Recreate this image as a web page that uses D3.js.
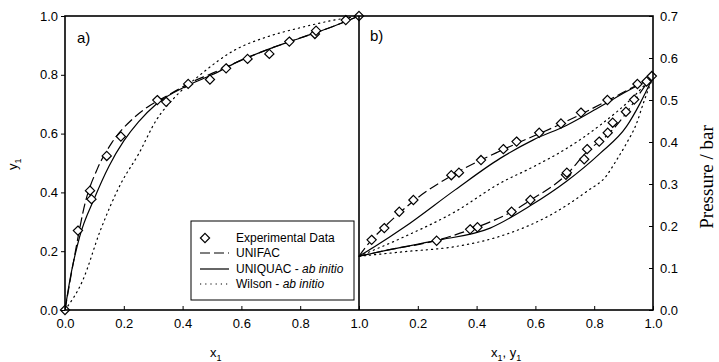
<!DOCTYPE html>
<meta charset="utf-8">
<style>
	body { margin: 0; background: #fff; }
	.tick text { font: 13px "Liberation Sans", Arial, sans-serif; fill: #000; }
	.tick line { stroke: #000; }
	.curve { fill: none; stroke: #000; stroke-width: 1.2px; }
	.frame { fill: none; stroke: #000; stroke-width: 1.6px; }
	.lbl { font: 13px "Liberation Sans", Arial, sans-serif; fill: #000; }
</style>
<svg width="719" height="362"></svg>
<script src="https://cdn.jsdelivr.net/npm/d3@7"></script>
<script>

// ---- panel a) x-y diagram ----
var expX = [0, 0.044, 0.085, 0.09, 0.142, 0.19, 0.314, 0.344, 0.419, 0.493, 0.548, 0.621, 0.695, 0.763, 0.85, 0.854, 0.955, 1.0];
var expY = [0, 0.27, 0.406, 0.377, 0.524, 0.59, 0.714, 0.708, 0.769, 0.784, 0.822, 0.854, 0.871, 0.913, 0.939, 0.95, 0.986, 1.0];

var unifacX = [0, 0.03, 0.07, 0.11, 0.16, 0.23, 0.28, 0.35, 0.42, 0.5, 0.6, 0.7, 0.8, 0.9, 1];
var unifacY = [0, 0.17, 0.37, 0.48, 0.57, 0.65, 0.69, 0.73, 0.77, 0.805, 0.85, 0.89, 0.925, 0.96, 1];

var uniquacX = [0, 0.02, 0.05, 0.1, 0.15, 0.2, 0.25, 0.31, 0.42, 0.5, 0.6, 0.7, 0.8, 0.9, 1];
var uniquacY = [0, 0.12, 0.25, 0.38, 0.49, 0.575, 0.64, 0.70, 0.765, 0.80, 0.85, 0.89, 0.925, 0.96, 1];

var wilsonX = [0, 0.06, 0.12, 0.19, 0.25, 0.31, 0.37, 0.46, 0.57, 0.69, 0.8, 0.91, 1.0];
var wilsonY = [0, 0.10, 0.27, 0.43, 0.53, 0.645, 0.72, 0.80, 0.88, 0.93, 0.96, 0.985, 1.0];

// ---- panel b) P-x-y diagram ----
var bubExpX = [0.043, 0.086, 0.137, 0.185, 0.314, 0.34, 0.415, 0.491, 0.536, 0.613, 0.687, 0.755, 0.845, 0.947, 0.996];
var bubExpP = [0.167, 0.195, 0.234, 0.262, 0.321, 0.327, 0.357, 0.383, 0.401, 0.422, 0.444, 0.47, 0.5, 0.538, 0.557];
var dewExpY = [0.264, 0.378, 0.403, 0.519, 0.583, 0.704, 0.707, 0.766, 0.776, 0.817, 0.846, 0.863, 0.908, 0.936, 0.978];
var dewExpP = [0.165, 0.192, 0.197, 0.234, 0.262, 0.322, 0.327, 0.359, 0.383, 0.401, 0.422, 0.446, 0.472, 0.501, 0.544];

var unifacBubX = [0, 0.043, 0.09, 0.19, 0.34, 0.5, 0.69, 0.85, 0.95, 1];
var unifacBubP = [0.128, 0.167, 0.2, 0.262, 0.33, 0.385, 0.444, 0.5, 0.537, 0.554];
var unifacDewY = [0, 0.1, 0.26, 0.4, 0.52, 0.58, 0.705, 0.78, 0.85, 0.91, 0.94, 0.98, 1];
var unifacDewP = [0.128, 0.143, 0.165, 0.197, 0.234, 0.26, 0.322, 0.38, 0.42, 0.47, 0.50, 0.54, 0.554];

var uniquacBubX = [0, 0.054, 0.156, 0.327, 0.48, 0.593, 0.707, 0.82, 0.91, 1];
var uniquacBubP = [0.128, 0.151, 0.198, 0.286, 0.361, 0.405, 0.44, 0.484, 0.52, 0.554];
var uniquacDewY = [0, 0.1, 0.26, 0.446, 0.582, 0.705, 0.82, 0.91, 0.956, 1];
var uniquacDewP = [0.128, 0.143, 0.165, 0.195, 0.248, 0.306, 0.373, 0.437, 0.492, 0.554];

var wilsonBubX = [0, 0.156, 0.327, 0.48, 0.593, 0.707, 0.82, 0.934, 0.978, 1];
var wilsonBubP = [0.128, 0.175, 0.234, 0.302, 0.341, 0.385, 0.44, 0.508, 0.54, 0.554];
var wilsonDewY = [0, 0.156, 0.327, 0.491, 0.661, 0.774, 0.842, 0.876, 0.91, 0.944, 0.967, 1];
var wilsonDewP = [0.128, 0.139, 0.151, 0.178, 0.23, 0.282, 0.32, 0.357, 0.397, 0.444, 0.492, 0.554];

var xTicksA = [0, 0.2, 0.4, 0.6, 0.8, 1.0];
var xTicksB = [0.2, 0.4, 0.6, 0.8, 1.0];
var yTicksA = [0, 0.2, 0.4, 0.6, 0.8, 1.0];
var pTicks = [0, 0.1, 0.2, 0.3, 0.4, 0.5, 0.6, 0.7];

var legendNames = ["Experimental Data", "UNIFAC", "UNIQUAC", "Wilson"];

var svg = d3.select("svg");

var xA = d3.scaleLinear().domain([0, 1]).range([65, 359]),
	yA = d3.scaleLinear().domain([0, 1]).range([310, 16]),
	xB = d3.scaleLinear().domain([0, 1]).range([359, 653]),
	yB = d3.scaleLinear().domain([0, 0.7]).range([310, 16]);

function zip(a, b) { return a.map(function(v, i) { return [v, b[i]]; }); }

function diamond(r) {
	return "M0," + (-r) + "L" + r + ",0L0," + r + "L" + (-r) + ",0Z";
}

var styles = {
	unifac: "10,4",
	uniquac: null,
	wilson: "1.2,4"
};

function drawCurve(pts, sx, sy, dash) {
	var line = d3.line()
		.curve(d3.curveMonotoneX)
		.x(function(d) { return sx(d[0]); })
		.y(function(d) { return sy(d[1]); });
	svg.append("path")
		.attr("class", "curve")
		.attr("d", line(pts))
		.style("stroke-dasharray", dash)
		.style("stroke-linecap", dash === styles.wilson ? "round" : "butt");
}

function drawPoints(pts, sx, sy) {
	svg.append("g").selectAll("path")
		.data(pts).enter().append("path")
		.attr("d", diamond(4.6))
		.attr("transform", function(d) { return "translate(" + sx(d[0]) + "," + sy(d[1]) + ")"; })
		.attr("fill", "#fff")
		.attr("stroke", "#000")
		.attr("stroke-width", 1.2);
}

// curves panel a
drawCurve(zip(wilsonX, wilsonY), xA, yA, styles.wilson);
drawCurve(zip(uniquacX, uniquacY), xA, yA, styles.uniquac);
drawCurve(zip(unifacX, unifacY), xA, yA, styles.unifac);

// curves panel b
drawCurve(zip(wilsonBubX, wilsonBubP), xB, yB, styles.wilson);
drawCurve(zip(wilsonDewY, wilsonDewP), xB, yB, styles.wilson);
drawCurve(zip(uniquacBubX, uniquacBubP), xB, yB, styles.uniquac);
drawCurve(zip(uniquacDewY, uniquacDewP), xB, yB, styles.uniquac);
drawCurve(zip(unifacBubX, unifacBubP), xB, yB, styles.unifac);
drawCurve(zip(unifacDewY, unifacDewP), xB, yB, styles.unifac);

drawPoints(zip(expX, expY), xA, yA);
drawPoints(zip(bubExpX, bubExpP), xB, yB);
drawPoints(zip(dewExpY, dewExpP), xB, yB);

// axes
svg.append("g")
	.attr("transform", "translate(0,310)")
	.call(d3.axisBottom(xA).tickValues(xTicksA).tickFormat(d3.format(".1f")).tickSizeInner(-4).tickSizeOuter(0).tickPadding(9))
	.call(function(g) { g.select(".domain").remove(); });

svg.append("g")
	.attr("transform", "translate(0,310)")
	.call(d3.axisBottom(xB).tickValues(xTicksB).tickFormat(d3.format(".1f")).tickSizeInner(-4).tickSizeOuter(0).tickPadding(9))
	.call(function(g) { g.select(".domain").remove(); });

svg.append("g")
	.attr("transform", "translate(65,0)")
	.call(d3.axisLeft(yA).tickValues(yTicksA).tickFormat(d3.format(".1f")).tickSizeInner(4).tickSizeOuter(0).tickPadding(3))
	.call(function(g) { g.select(".domain").remove(); });

svg.append("g")
	.attr("transform", "translate(653,0)")
	.call(d3.axisRight(yB).tickValues(pTicks).tickFormat(d3.format(".1f")).tickSizeInner(-4).tickSizeOuter(0).tickPadding(7))
	.call(function(g) { g.select(".domain").remove(); });

// frame
svg.append("rect").attr("class", "frame")
	.attr("x", xA(0)).attr("y", yA(1))
	.attr("width", xB(1) - xA(0)).attr("height", yA(0) - yA(1));
svg.append("line").attr("class", "frame")
	.attr("x1", xA(1)).attr("x2", xA(1)).attr("y1", yA(1)).attr("y2", yA(0));

// panel labels
svg.append("text").attr("class", "lbl").attr("x", 77).attr("y", 43).style("font-size", "15px").text("a)");
svg.append("text").attr("class", "lbl").attr("x", 370).attr("y", 41).style("font-size", "15px").text("b)");

// axis titles
var t1 = svg.append("text").attr("class", "lbl").attr("x", 210).attr("y", 357);
t1.append("tspan").text("x");
t1.append("tspan").attr("dy", 4).style("font-size", "9px").text("1");

var t2 = svg.append("text").attr("class", "lbl").attr("x", 491).attr("y", 357);
t2.append("tspan").text("x");
t2.append("tspan").attr("dy", 4).style("font-size", "9px").text("1");
t2.append("tspan").attr("dy", -4).text(", y");
t2.append("tspan").attr("dy", 4).style("font-size", "9px").text("1");

var t3 = svg.append("text").attr("class", "lbl")
	.attr("transform", "translate(17,170) rotate(-90)");
t3.append("tspan").text("y");
t3.append("tspan").attr("dy", 4).style("font-size", "9px").text("1");

svg.append("text")
	.attr("transform", "translate(713,177) rotate(-90)")
	.attr("text-anchor", "middle")
	.style("font", "19px 'Liberation Serif', 'Times New Roman', serif")
	.text("Pressure / bar");

// legend
var lg = svg.append("g");
lg.append("rect")
	.attr("x", 191).attr("y", 221).attr("width", 163).attr("height", 79)
	.attr("fill", "#fff").attr("stroke", "#000").attr("stroke-width", 1);

var rowY = [242, 257, 273, 288];
lg.append("path")
	.attr("d", diamond(4.6))
	.attr("transform", "translate(205," + (rowY[0] - 4) + ")")
	.attr("fill", "#fff").attr("stroke", "#000").attr("stroke-width", 1.2);

[styles.unifac, styles.uniquac, styles.wilson].forEach(function(dash, i) {
	lg.append("line")
		.attr("class", "curve")
		.attr("x1", 200).attr("x2", 229)
		.attr("y1", rowY[i + 1] - 4).attr("y2", rowY[i + 1] - 4)
		.style("stroke-dasharray", dash);
});

legendNames.forEach(function(name, i) {
	var t = lg.append("text").attr("class", "lbl")
		.attr("x", 236).attr("y", rowY[i])
		.style("font-size", "12px")
		.text(name);
	if (i >= 2) {
		t.append("tspan").text(" - ");
		t.append("tspan").style("font-style", "italic").text("ab initio");
	}
});

</script>
